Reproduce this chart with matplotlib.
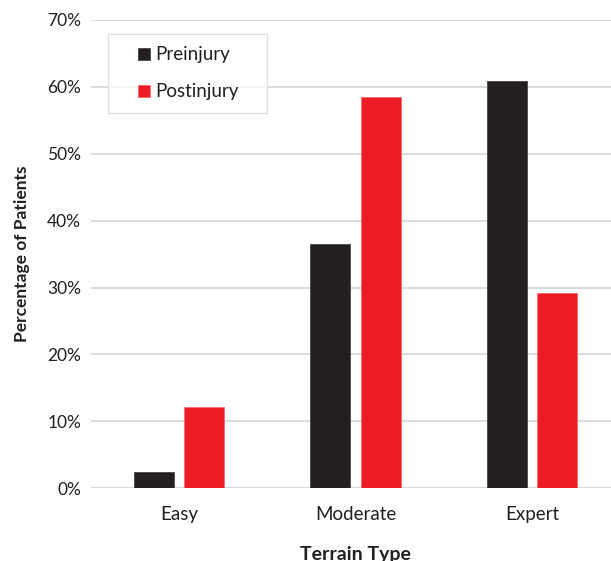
import matplotlib
matplotlib.use("Agg")
import matplotlib.pyplot as plt
import numpy as np
from matplotlib.ticker import PercentFormatter
from matplotlib.legend_handler import HandlerPatch, update_from_first_child
from matplotlib.patches import Rectangle
from matplotlib.container import BarContainer

categories = ["Easy", "Moderate", "Expert"]
preinjury = [2.4, 36.5, 60.9]
postinjury = [12.1, 58.5, 29.2]
yticks = [0, 10, 20, 30, 40, 50, 60, 70]

plt.rcParams["font.family"] = ["Lato", "DejaVu Sans"]
TEXT = "#231F20"

fig = plt.figure(figsize=(6.11, 5.61), dpi=100)
ax = fig.add_axes([0.1485, 0.1296, 0.8666, 0.8348])

x = np.arange(len(categories))
w = 0.227
off = 0.142
ax.bar(x - off, preinjury, w, color="#231F20", edgecolor="#4a4647", linewidth=0.6,
       label="Preinjury", zorder=3)
ax.bar(x + off, postinjury, w, color="#ED1C24", edgecolor="#f26a6f", linewidth=0.6,
       label="Postinjury", zorder=3)

ax.set_xlim(-0.5, 2.5)
ax.set_ylim(0, 70)
ax.set_yticks(yticks)
ax.yaxis.set_major_formatter(PercentFormatter(decimals=0))
ax.set_xticks(x)
ax.set_xticklabels(categories)

ax.grid(axis="y", color="#d9d9d9", linewidth=1.3, zorder=0)
ax.axhline(0, color="#d0d0d0", linewidth=2.2, zorder=1)
for s in ax.spines.values():
    s.set_visible(False)
ax.tick_params(axis="both", length=0, colors=TEXT)
ax.tick_params(axis="y", pad=7, labelsize=12.5)
ax.tick_params(axis="x", pad=13, labelsize=13.5)

ax.set_ylabel("Percentage of Patients", fontsize=12.5, fontweight="bold",
              color=TEXT, labelpad=12)
ax.set_xlabel("Terrain Type", fontsize=14, fontweight="bold",
              color=TEXT, labelpad=16)


def square_key(legend, orig_handle, xdescent, ydescent, width, height, fontsize):
    # small square key pushed to the right end of the handle box
    side = 8.6
    return Rectangle((width - side - xdescent, -ydescent + (height - side) / 2),
                     side, side)


leg = ax.legend(loc="upper left", bbox_to_anchor=(0.0326, 0.5, 0.3003, 0.470),
                mode="expand", fontsize=13.5,
                frameon=True, fancybox=False, edgecolor="#d9d9d9",
                handler_map={BarContainer: HandlerPatch(
                    patch_func=square_key, update_func=update_from_first_child)},
                handlelength=1.58, handleheight=0.6, handletextpad=0.27,
                labelspacing=1.07, borderpad=0.66, borderaxespad=0)
leg.get_frame().set_linewidth(1.0)
for t in leg.get_texts():
    t.set_color(TEXT)

fig.savefig("out.png", dpi=100, facecolor="white")
